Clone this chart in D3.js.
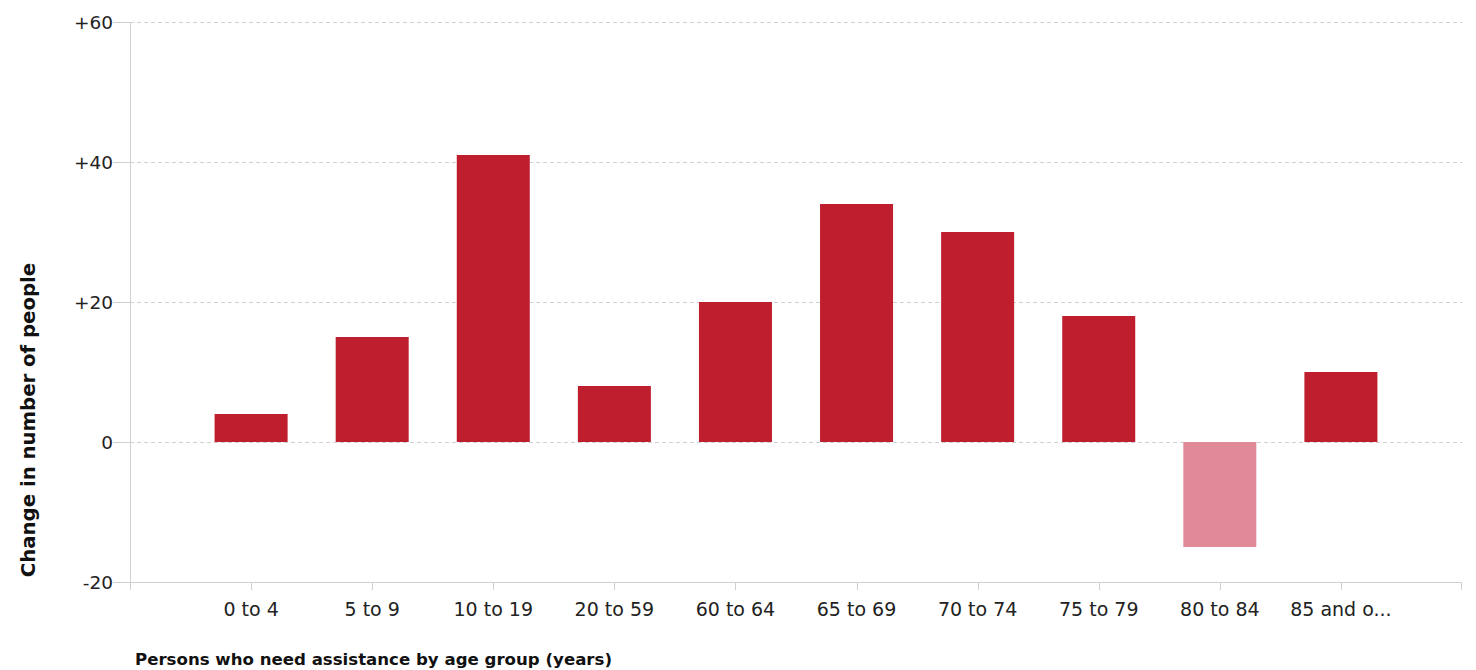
<!DOCTYPE html>
<html><head><meta charset="utf-8">
<script src="https://cdn.jsdelivr.net/npm/d3@7"></script>
<style>body{margin:0;background:#fff;} svg{display:block;font-family:"DejaVu Sans",Verdana,sans-serif;}</style>
</head><body>
<script>
const categories = ["0 to 4","5 to 9","10 to 19","20 to 59","60 to 64","65 to 69","70 to 74","75 to 79","80 to 84","85 and o..."];
const values = [4,15,41,8,20,34,30,18,-15,10];
const yTicks = [-20,0,20,40,60];
const yTickLabels = ["-20","0","+20","+40","+60"];
const xTitle = "Persons who need assistance by age group (years)";
const yTitle = "Change in number of people";

(function(){
const W=1476,H=670;
const mLeft=130,mRight=1462,mTop=22,mBottom=582;
const svg=d3.select("body").append("svg").attr("width",W).attr("height",H);
const x=d3.scalePoint().domain(categories).range([mLeft,mRight]).padding(1);
const y=d3.scaleLinear().domain([-20,60]).range([mBottom,mTop]);
const barW=73;

// gridlines
svg.append("g").selectAll("line").data(yTicks.filter(d=>d!==-20)).join("line")
  .attr("x1",mLeft).attr("x2",mRight).attr("y1",d=>y(d)+0.5).attr("y2",d=>y(d)+0.5)
  .attr("stroke","#cfcfcf").attr("stroke-dasharray","4,3");
// y tick stubs
svg.append("g").selectAll("line").data(yTicks).join("line")
  .attr("x1",mLeft-17).attr("x2",mLeft).attr("y1",d=>y(d)+0.5).attr("y2",d=>y(d)+0.5)
  .attr("stroke","#cfcfcf");
// y axis line
svg.append("line").attr("x1",mLeft+0.5).attr("x2",mLeft+0.5).attr("y1",mTop).attr("y2",mBottom+8).attr("stroke","#d0d0d0");
// x axis line
svg.append("line").attr("x1",mLeft).attr("x2",mRight).attr("y1",mBottom+0.5).attr("y2",mBottom+0.5).attr("stroke","#d0d0d0");
// x ticks
svg.append("g").selectAll("line").data(categories).join("line")
  .attr("x1",d=>Math.round(x(d))+0.5).attr("x2",d=>Math.round(x(d))+0.5).attr("y1",mBottom).attr("y2",mBottom+8)
  .attr("stroke","#d0d0d0");
svg.append("line").attr("x1",mRight-0.5).attr("x2",mRight-0.5).attr("y1",mBottom).attr("y2",mBottom+8).attr("stroke","#d0d0d0");

// bars
svg.append("g").selectAll("rect").data(values).join("rect")
  .attr("x",(d,i)=>x(categories[i])-barW/2)
  .attr("y",d=>y(Math.max(0,d)))
  .attr("width",barW)
  .attr("height",d=>Math.abs(y(d)-y(0)))
  .attr("fill",d=>d<0?"#e08a98":"#be1e2d");

// y labels
svg.append("g").selectAll("text").data(yTicks).join("text")
  .attr("x",mLeft-17).attr("y",d=>y(d)).attr("dy","0.36em").attr("text-anchor","end")
  .attr("font-size",18.5).attr("fill","#222").text((d,i)=>yTickLabels[i]);
// x labels
svg.append("g").selectAll("text").data(categories).join("text")
  .attr("x",d=>x(d)).attr("y",616).attr("text-anchor","middle")
  .attr("font-size",19).attr("fill","#222").text(d=>d);
// titles
svg.append("text").attr("x",135).attr("y",665).attr("font-size",16.6).attr("font-weight","bold").attr("fill","#111").text(xTitle);
svg.append("text").attr("transform","translate(35,420) rotate(-90)").attr("text-anchor","middle")
  .attr("font-size",19.7).attr("font-weight","bold").attr("fill","#111").text(yTitle);
})();
</script>
</body></html>
